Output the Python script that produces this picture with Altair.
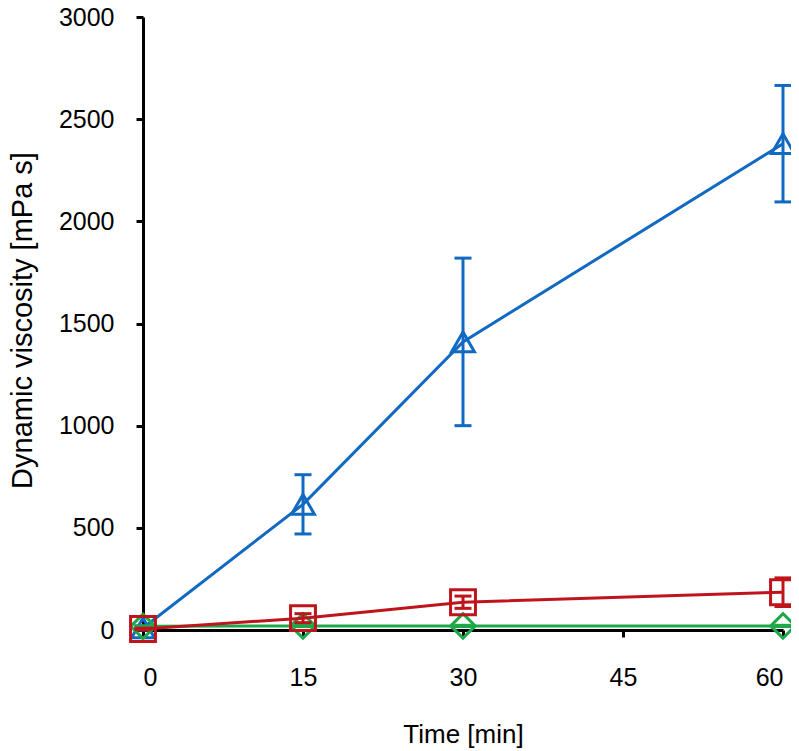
import altair as alt
import pandas as pd

time = [0, 15, 30, 60]
series_names = ["A", "C", "B"]  # draw order: blue, green, red
blue_mean = [10, 615, 1410, 2380]
blue_err = [10, 145, 410, 285]
red_mean = [5, 58, 136, 185]
red_err = [4, 22, 30, 70]
green_mean = [18, 20, 20, 20]
green_err = [2, 3, 3, 3]
x_ticks = [0, 15, 30, 45, 60]
y_ticks = [0, 500, 1000, 1500, 2000, 2500, 3000]

colors = {"A": "#1169C2", "B": "#C0141C", "C": "#1FA84A"}
shapes = {"A": "triangle-up", "B": "square", "C": "diamond"}
sizes = {"A": 520, "B": 620, "C": 600}
values = {"A": (blue_mean, blue_err), "B": (red_mean, red_err), "C": (green_mean, green_err)}

x_scale = alt.Scale(domain=[0, 60], nice=False, zero=False)
y_scale = alt.Scale(domain=[0, 3000], nice=False)
x_axis = alt.Axis(values=x_ticks, format="d", title="Time [min]",
                  titleX=320, titleY=112, titleAlign="center", titleBaseline="alphabetic",
                  labelPadding=28, titleFontSize=26, titleFontWeight="normal")
y_axis = alt.Axis(values=y_ticks, format="d", title="Dynamic viscosity [mPa s]", titleAngle=-90,
                  titleX=-112, titleY=303, titleAlign="center", titleBaseline="alphabetic",
                  labelPadding=22, titleFontSize=29, titleFontWeight="normal")

layers = []
for s in series_names:
    m, e = values[s]
    df = pd.DataFrame({
        "t": time,
        "v": m,
        "lo": [a - b for a, b in zip(m, e)],
        "hi": [a + b for a, b in zip(m, e)],
    })
    base = alt.Chart(df)
    col = colors[s]
    X = alt.X("t:Q", scale=x_scale, axis=x_axis)
    line = base.mark_line(color=col, strokeWidth=3).encode(
        x=X, y=alt.Y("v:Q", scale=y_scale, axis=y_axis))
    rule = base.mark_rule(color=col, strokeWidth=3, opacity=1).encode(
        x=X, y=alt.Y("lo:Q", scale=y_scale, axis=y_axis), y2="hi:Q")
    cap_lo = base.mark_tick(color=col, orient="horizontal", size=17, thickness=3, opacity=1).encode(
        x=X, y=alt.Y("lo:Q", scale=y_scale, axis=y_axis))
    cap_hi = base.mark_tick(color=col, orient="horizontal", size=17, thickness=3, opacity=1).encode(
        x=X, y=alt.Y("hi:Q", scale=y_scale, axis=y_axis))
    pts = base.mark_point(shape=shapes[s], size=sizes[s], filled=False,
                          color=col, strokeWidth=3, opacity=1).encode(
        x=X, y=alt.Y("v:Q", scale=y_scale, axis=y_axis))
    layers += [line, rule, cap_lo, cap_hi, pts]

chart = alt.layer(*layers).properties(
    width=640, height=613,
    autosize=alt.AutoSizeParams(type="none"),
    padding={"left": 135, "top": 9, "right": 8, "bottom": 118},
).configure_view(stroke=None).configure_axis(
    grid=False, domainColor="black", domainWidth=3, tickColor="black",
    tickWidth=3, tickSize=7, labelFont="Liberation Sans", labelFontSize=25,
    labelColor="black", titleFont="Liberation Sans", titleColor="black",
)

chart.save("out.html", embed_options={"renderer": "svg", "actions": False})
